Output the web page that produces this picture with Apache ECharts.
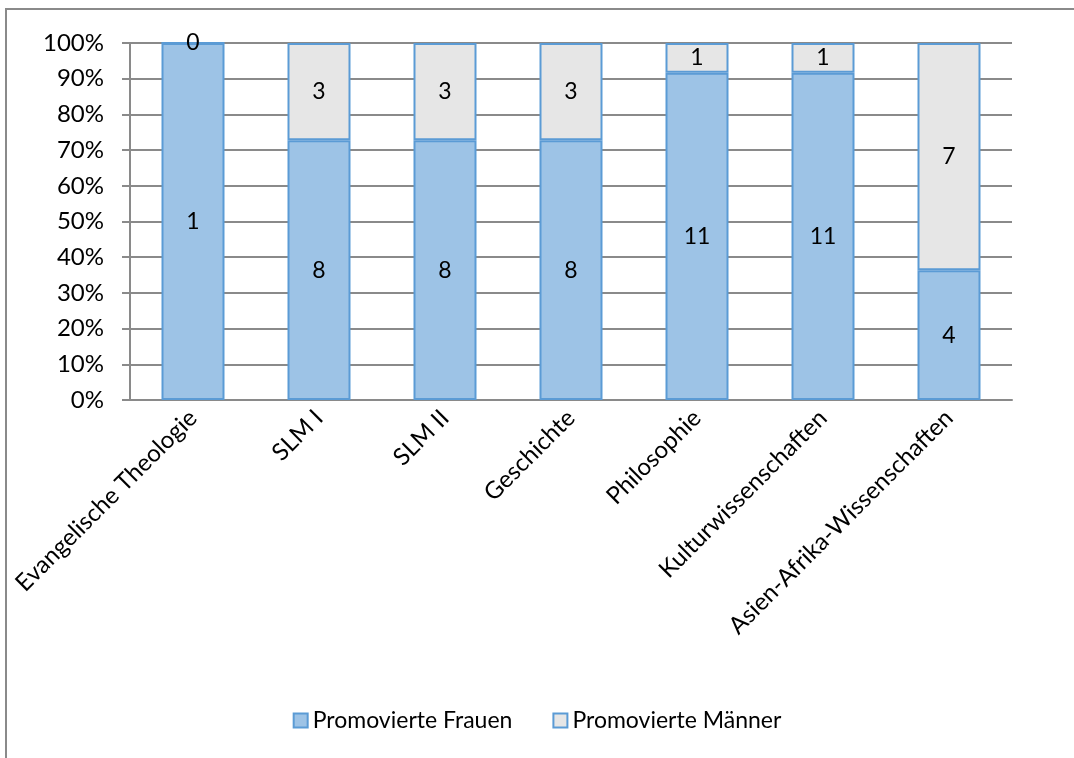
<!DOCTYPE html>
<html>
<head>
<meta charset="utf-8">
<script src="https://cdn.jsdelivr.net/npm/echarts@6/dist/echarts.min.js"></script>
<style>
  html, body { margin: 0; padding: 0; background: #fff; }
  #chart { width: 1074px; height: 758px; }
</style>
</head>
<body>
<div id="chart"></div>
<script>
// Promotionen nach Fach, getrennt nach Frauen und Männern
const categories = [
  'Evangelische Theologie', 'SLM I', 'SLM II', 'Geschichte',
  'Philosophie', 'Kulturwissenschaften', 'Asien-Afrika-Wissenschaften'
];
const frauen = [1, 8, 8, 8, 11, 11, 4];
const maenner = [0, 3, 3, 3, 1, 1, 7];
const yTicks = [0, 10, 20, 30, 40, 50, 60, 70, 80, 90, 100];

// Anteil je Fach in Prozent (100%-Stapel)
const totals = frauen.map((f, i) => f + maenner[i]);
const frauenPct = frauen.map((f, i) => f / totals[i] * 100);
const maennerPct = maenner.map((m, i) => m / totals[i] * 100);

const FONT = 'Lato';
const GRAY = '#8a8a8a';

const chart = echarts.init(document.getElementById('chart'), null, { renderer: 'canvas' });

const countLabel = (counts) => ({
  show: true,
  position: 'inside',
  color: '#000',
  fontFamily: FONT,
  fontSize: 23,
  formatter: (p) => String(counts[p.dataIndex])
});

chart.setOption({
  animation: false,
  backgroundColor: '#fff',
  textStyle: { fontFamily: FONT },
  graphic: [{
    type: 'rect',
    silent: true,
    z: -1,
    shape: { x: 6, y: 9, width: 1100, height: 800 },
    style: { fill: 'none', stroke: GRAY, lineWidth: 2 }
  }],
  grid: { left: 130, right: 62, top: 43, bottom: 358 },
  legend: {
    bottom: 21,
    left: 'center',
    itemGap: 40,
    itemWidth: 14,
    itemHeight: 14,
    icon: 'rect',
    textStyle: { fontFamily: FONT, fontSize: 23, color: '#000' },
    data: ['Promovierte Frauen', 'Promovierte Männer']
  },
  xAxis: {
    type: 'category',
    data: categories,
    axisLine: { lineStyle: { color: GRAY, width: 2 } },
    axisTick: { length: 7, lineStyle: { color: GRAY, width: 2 } },
    axisLabel: {
      rotate: 45,
      margin: 14,
      interval: 0,
      color: '#000',
      fontFamily: FONT,
      fontSize: 24
    }
  },
  yAxis: {
    type: 'value',
    min: yTicks[0],
    max: yTicks[yTicks.length - 1],
    interval: yTicks[1] - yTicks[0],
    axisLine: { show: true, lineStyle: { color: GRAY, width: 2 } },
    axisTick: { show: true, length: 8, lineStyle: { color: GRAY, width: 2 } },
    splitLine: { lineStyle: { color: GRAY, width: 2 } },
    axisLabel: {
      margin: 26,
      color: '#000',
      fontFamily: FONT,
      fontSize: 24,
      formatter: '{value}%'
    }
  },
  series: [
    {
      name: 'Promovierte Frauen',
      type: 'bar',
      stack: 'anteil',
      barWidth: '50%',
      data: frauenPct,
      itemStyle: { color: '#9dc3e6', borderColor: '#5b9bd5', borderWidth: 2 },
      label: countLabel(frauen)
    },
    {
      name: 'Promovierte Männer',
      type: 'bar',
      stack: 'anteil',
      barWidth: '50%',
      data: maennerPct,
      itemStyle: { color: '#e6e6e6', borderColor: '#5b9bd5', borderWidth: 2 },
      label: countLabel(maenner)
    }
  ]
});
</script>
</body>
</html>
